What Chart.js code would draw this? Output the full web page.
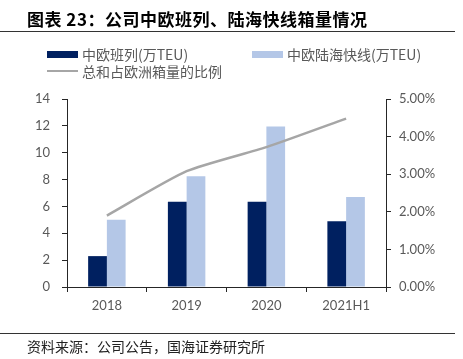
<!DOCTYPE html>
<html>
<head>
<meta charset="utf-8">
<script src="https://cdn.jsdelivr.net/npm/chart.js@4"></script>
<style>
  html, body { margin: 0; padding: 0; background: #fff; }
  body { width: 463px; height: 359px; position: relative; overflow: hidden;
         font-family: "Noto Sans CJK SC", "Noto Sans", sans-serif; }
  #wrap { position: absolute; left: 0; top: 0; width: 463px; height: 359px; }
  .title { position: absolute; left: 27px; top: 6px; font-size: 17px; font-weight: bold;
           color: #000; letter-spacing: 0.5px; white-space: nowrap; }
  .rule { position: absolute; left: 0; width: 455px; height: 1px; background: #333; }
  .leg { position: absolute; font-size: 14px; color: #595959; white-space: nowrap; line-height: 16px; }
  .sw { position: absolute; }
  .src { position: absolute; left: 27px; top: 337px; font-size: 14px; color: #222; white-space: nowrap; line-height: 18px; }
</style>
</head>
<body>
<div id="wrap"><canvas id="c" width="463" height="359"></canvas></div>
<div class="title">图表 23：公司中欧班列、陆海快线箱量情况</div>
<div class="rule" style="top:31px"></div>
<div class="sw" style="left:47px;top:51px;width:31px;height:7px;background:#002060"></div>
<div class="leg" style="left:82px;top:46px">中欧班列(万TEU)</div>
<div class="sw" style="left:252px;top:51px;width:31px;height:7px;background:#B4C7E7"></div>
<div class="leg" style="left:287px;top:46px">中欧陆海快线(万TEU)</div>
<div class="sw" style="left:47px;top:70px;width:31px;height:2px;background:#A6A6A6"></div>
<div class="leg" style="left:82px;top:63px">总和占欧洲箱量的比例</div>
<div class="rule" style="top:333px"></div>
<div class="src">资料来源：公司公告，国海证券研究所</div>
<script>
// Values
const categories = ["2018", "2019", "2020", "2021H1"];
const chinaEuropeTrains = [2.3, 6.35, 6.35, 4.9];      // 中欧班列(万TEU)
const landSeaExpress = [5.0, 8.25, 11.95, 6.7];        // 中欧陆海快线(万TEU)
const shareOfEurope = [1.9, 3.08, 3.72, 4.48];         // 总和占欧洲箱量的比例 (%)

const AXIS_COLOR = "#262626";
const TICK_FONT = { family: "Lato, 'Noto Sans', sans-serif", size: 13 };

new Chart(document.getElementById("c"), {
  type: "bar",
  data: {
    labels: categories,
    datasets: [
      {
        type: "line",
        label: "总和占欧洲箱量的比例",
        data: shareOfEurope,
        yAxisID: "y1",
        borderColor: "#A6A6A6",
        borderWidth: 2.5,
        pointRadius: 0,
        tension: 0.2,
        fill: false,
        order: 0,
      },
      {
        label: "中欧班列(万TEU)",
        data: chinaEuropeTrains,
        backgroundColor: "#002060",
        yAxisID: "y",
        categoryPercentage: 0.47,
        barPercentage: 1,
        order: 1,
      },
      {
        label: "中欧陆海快线(万TEU)",
        data: landSeaExpress,
        backgroundColor: "#B4C7E7",
        yAxisID: "y",
        categoryPercentage: 0.47,
        barPercentage: 1,
        order: 1,
      },
    ],
  },
  options: {
    responsive: false,
    animation: false,
    layout: { padding: { top: 99, left: 0, right: 0, bottom: 0 } },
    plugins: { legend: { display: false }, tooltip: { enabled: false } },
    scales: {
      x: {
        grid: { display: true, drawOnChartArea: false, offset: true, tickLength: 5, color: AXIS_COLOR },
        border: { display: true, color: AXIS_COLOR, width: 1 },
        ticks: { color: "#595959", font: TICK_FONT, padding: 6 },
        afterFit: (s) => { s.height = 72; },
      },
      y: {
        position: "left",
        min: 0,
        max: 14,
        ticks: { stepSize: 2, color: "#595959", font: TICK_FONT, padding: 12 },
        grid: { display: true, drawOnChartArea: false, tickLength: 5, color: AXIS_COLOR },
        border: { display: true, color: AXIS_COLOR, width: 1 },
        afterFit: (s) => { s.width = 67; },
      },
      y1: {
        position: "right",
        min: 0,
        max: 5,
        ticks: {
          stepSize: 1,
          color: "#595959",
          font: TICK_FONT,
          padding: 8,
          callback: (v) => v.toFixed(2) + "%",
        },
        grid: { display: true, drawOnChartArea: false, tickLength: 5, color: AXIS_COLOR },
        border: { display: true, color: AXIS_COLOR, width: 1 },
        afterFit: (s) => { s.width = 77; },
      },
    },
  },
});
</script>
</body>
</html>
